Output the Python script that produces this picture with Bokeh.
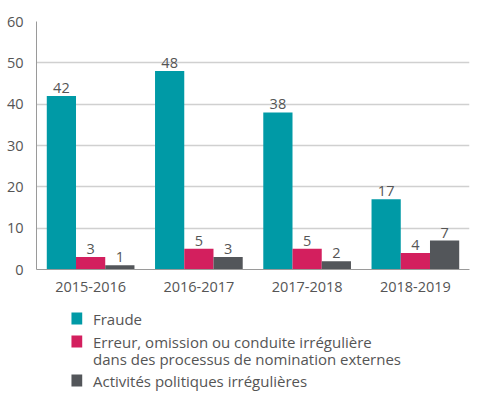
from bokeh.plotting import figure
from bokeh.models import ColumnDataSource, FactorRange, Range1d, FixedTicker
from bokeh.layouts import column
from bokeh.transform import dodge
from bokeh.core.properties import value
from bokeh.embed import file_html
from bokeh.resources import INLINE

years = ["2015-2016", "2016-2017", "2017-2018", "2018-2019"]
fraude = [42, 48, 38, 17]
erreur = [3, 5, 5, 4]
politique = [1, 3, 2, 7]
series_names = ["Fraude",
                "Erreur, omission ou conduite irrégulière\ndans des processus de nomination externes",
                "Activités politiques irrégulières"]
colors = ["#009aa6", "#d31f5e", "#53565a"]
y_ticks = [0, 10, 20, 30, 40, 50, 60]

FONT = "Open Sans"
TXT = "#555555"

src = ColumnDataSource(dict(years=years, fraude=fraude, erreur=erreur, politique=politique,
                            l1=[str(v) for v in fraude], l2=[str(v) for v in erreur],
                            l3=[str(v) for v in politique]))

p = figure(x_range=FactorRange(*years), y_range=Range1d(0, 60), width=483, height=299,
           output_backend="svg", toolbar_location=None,
           min_border_left=36, min_border_right=14, min_border_top=21, min_border_bottom=30)
p.outline_line_color = None
w = 0.27
offs = [-0.27, 0.0, 0.27]
for col, lab, off, c in zip(["fraude", "erreur", "politique"], ["l1", "l2", "l3"], offs, colors):
    p.vbar(x=dodge("years", off, range=p.x_range), top=col, width=w, source=src,
           fill_color=c, line_color=None)
    p.text(x=dodge("years", off, range=p.x_range), y=col, text=lab, source=src,
           text_align="center", text_baseline="alphabetic", y_offset=-8,
           text_font=value(FONT), text_font_size="14.5px", text_color=TXT)

p.yaxis.ticker = FixedTicker(ticks=y_ticks)
p.yaxis.major_tick_line_color = None
p.yaxis.minor_tick_line_color = None
p.yaxis.axis_line_color = "#9a9a9a"
p.yaxis.major_label_text_font = FONT
p.yaxis.major_label_text_font_size = "14.5px"
p.yaxis.major_label_text_color = TXT
p.yaxis.major_label_standoff = 7
p.xaxis.major_tick_line_color = None
p.xaxis.axis_line_color = "#9a9a9a"
p.xaxis.major_label_text_font = FONT
p.xaxis.major_label_text_font_size = "14.5px"
p.xaxis.major_label_text_color = TXT
p.xaxis.major_label_standoff = 6
p.xgrid.grid_line_color = None
p.ygrid.grid_line_color = "#d0d0d0"
p.ygrid.grid_line_width = 1.5
p.x_range.range_padding = 0
p.x_range.group_padding = 0

# legend figure
lg = figure(width=483, height=96, x_range=Range1d(0, 483), y_range=Range1d(96, 0),
            output_backend="svg", toolbar_location=None,
            min_border=0)
lg.axis.visible = False
lg.grid.visible = False
lg.outline_line_color = None
row_y = [19, 42, 81]
lg.rect(x=[45] * 3, y=row_y, width=12, height=12, fill_color=colors, line_color=None)
lines_text = []
lines_y = []
for name, y in zip(series_names, row_y):
    for k, part in enumerate(name.split("\n")):
        lines_text.append(part)
        lines_y.append(y + 17 * k)
lg.text(x=[63] * len(lines_text), y=lines_y, text=lines_text, text_baseline="middle",
        text_font=value(FONT), text_font_size="15px", text_color=TXT)

layout = column(p, lg, spacing=0)
open("out.html", "w").write(file_html(layout, INLINE))
